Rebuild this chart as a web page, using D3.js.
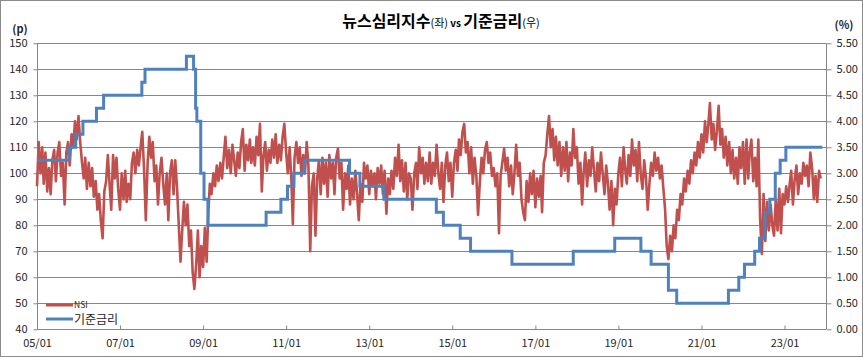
<!DOCTYPE html>
<html><head><meta charset="utf-8">
<script src="https://cdn.jsdelivr.net/npm/d3@7"></script>
<style>
html,body{margin:0;padding:0;background:#fff;}
svg{display:block;font-family:"Noto Sans CJK KR","Noto Sans",sans-serif;}
</style></head>
<body><svg id="c" width="863" height="357"></svg>
<script>
// ---- DATA ----
// NSI (left axis), semi-monthly readings (1st and 16th of each month)
const nsi2005 = [95,112,100,110,96,108,93,102,92,105,109,97,108,112,99,104,88,108,112,103,115,110,120,113];
const nsi2006 = [122,112,104,98,106,94,104,95,102,91,97,86,92,82,75,93,97,107,96,86,107,98,106,94];
const nsi2007 = [86,100,90,101,89,96,90,104,108,100,109,103,110,116,101,82,104,114,106,112,97,103,88,100];
const nsi2008 = [106,96,88,100,82,100,105,92,105,95,80,66,78,89,80,88,72,78,62,55.5,65,78,60,72];
const nsi2009 = [64,79,66,85,96,92,100,95,103,97,104,98,106,114,102,109,100,111,105,99,108,102,112,117];
const nsi2010 = [101,111,105,113,104,110,103,114,107,119,93,107,112,101,109,104,113,106,115,104,111,105,114,119];
const nsi2011 = [108,100,110,98,80.5,106,112,104,110,99,107,100,112,103,70,95,100,76,98,105,92,106,96,104];
const nsi2012 = [91,107,98,104,92,106,109.5,98,104,86,100,94,103,88,98,90,101,92,82,96,89,104,98,103];
const nsi2013 = [92,101,95,100,90,102,96,103,92,101,84.5,98,92,101,94,106,99,111,97,105,93,104,90,100];
const nsi2014 = [98,86,100,104,94,110,100,106,96,104,97,108,96,104,99,111,100,94,104,89,103,108,97,104];
const nsi2015 = [91,104,109,101,113,107,116,119,108,112,100,110,96,106,99,84,97,106,100,109,112,104,108,99];
const nsi2016 = [102,95,100,77,99,104,109.5,101,106,95,103,92,100,111,99,104,90,85,82,97,89,100,92,101];
const nsi2017 = [87,98,91,99,85,104,107,115,122,110,117,105,114,103,112,99,110,101,112,97,108,103,117,106];
const nsi2018 = [110,96,104,88,100,108,95,105,99,110,101,93,104,97,108,100,92,103,96,86,97,80,94,88];
const nsi2019 = [100,106,95,110,102,96,107,99,113,103,109,97,112,100,94,105,98,86,96,104,99,108,101,106];
const nsi2020 = [98,103,94,86,72,67,76,70,80,75,86,82,92,88,98,93,101,96,105,100,108,103,112,106];
const nsi2021 = [115,108,120,112,118,127,113,119,109,116,126,111,117,106,114,103,112,100,109,98,106,96,110,102];
const nsi2022 = [112,96,113,98,108,113,97,106,95,113,82,69,92,74,89,78,88,80,76,90,78,94,77,92];
const nsi2023 = [88,95,89,96,101,88,98,103,92,100,96,104,99,103,95,108,102,90,99,89,101,98];
const nsiYears = [2005,2006,2007,2008,2009,2010,2011,2012,2013,2014,2015,2016,2017,2018,2019,2020,2021,2022,2023];
const nsiByYear = [nsi2005,nsi2006,nsi2007,nsi2008,nsi2009,nsi2010,nsi2011,nsi2012,nsi2013,nsi2014,nsi2015,nsi2016,nsi2017,nsi2018,nsi2019,nsi2020,nsi2021,nsi2022,nsi2023];

// Base rate (right axis): change dates and new levels (%)
const rateDates  = ["2005-01-01","2005-10-11","2005-12-08","2006-02-09","2006-06-08","2006-08-10","2007-07-12","2007-08-09","2008-08-07","2008-10-09","2008-10-27","2008-11-07","2008-12-11","2009-01-09","2009-02-12","2010-07-09","2010-11-16","2011-01-13","2011-03-10","2011-06-10","2012-07-12","2012-10-11","2013-05-09","2014-08-14","2014-10-15","2015-03-12","2015-06-11","2016-06-09","2017-11-30","2018-11-30","2019-07-18","2019-10-16","2020-03-16","2020-05-28","2021-08-26","2021-11-25","2022-01-14","2022-04-14","2022-05-26","2022-07-13","2022-08-25","2022-10-12","2022-11-24","2023-01-13","2023-11-30"];
const rateValues = [3.25,3.50,3.75,4.00,4.25,4.50,4.75,5.00,5.25,5.00,4.25,4.00,3.00,2.50,2.00,2.25,2.50,2.75,3.00,3.25,3.00,2.75,2.50,2.25,2.00,1.75,1.50,1.25,1.50,1.75,1.50,1.25,0.75,0.50,0.75,1.00,1.25,1.50,1.75,2.25,2.50,3.00,3.25,3.50,3.50];

const leftTicks  = [40,50,60,70,80,90,100,110,120,130,140,150];
const rightTicks = [0,0.5,1,1.5,2,2.5,3,3.5,4,4.5,5,5.5];
const xTickLabels = ["05/01","07/01","09/01","11/01","13/01","15/01","17/01","19/01","21/01","23/01"];
const titleParts = [["뉴스심리지수",16,true],["(좌)",11,false],[" vs ",10,true],["기준금리",16,true],["(우)",11,false]];
const legendNames = ["NSI","기준금리"];

// ---- CHART ----
const svg = d3.select("#c");
const L = 37, R = 826, T = 43.3, B = 329.3;
const parse = d3.timeParse("%Y-%m-%d");

const nsiData = [];
nsiByYear.forEach((arr, k) => arr.forEach((v, i) => {
  nsiData.push({d: new Date(nsiYears[k], Math.floor(i/2), i % 2 ? 16 : 1), v});
}));
const rateData = rateDates.map((s, i) => ({d: parse(s), v: rateValues[i]}));

const x = d3.scaleTime().domain([new Date(2005,0,1), new Date(2024,0,1)]).range([L, R]);
const yL = d3.scaleLinear().domain([40,150]).range([B, T]);
const yR = d3.scaleLinear().domain([0,5.5]).range([B, T]);

const gridCol = "#868686", textCol = "#262626";

svg.append("rect").attr("x",0.5).attr("y",0.5).attr("width",862).attr("height",356)
  .attr("fill","none").attr("stroke","#8c8c8c");

// gridlines
svg.append("g").selectAll("line").data(leftTicks).join("line")
  .attr("x1", L).attr("x2", R).attr("y1", d => Math.round(yL(d))+0.5).attr("y2", d => Math.round(yL(d))+0.5)
  .attr("stroke", gridCol).attr("stroke-width", 1);

// left axis
const gL = svg.append("g").attr("transform", `translate(${L+0.5},0)`)
  .call(d3.axisLeft(yL).tickValues(leftTicks).tickSize(4).tickPadding(6));
// right axis
const gR = svg.append("g").attr("transform", `translate(${R+0.5},0)`)
  .call(d3.axisRight(yR).tickValues(rightTicks).tickSize(5).tickPadding(5).tickFormat(d3.format(".2f")));
// bottom axis
const xTicks = xTickLabels.map(s => new Date(2000 + +s.slice(0,2), +s.slice(3)-1, 1));
const gB = svg.append("g").attr("transform", `translate(0,${Math.round(B)+0.5})`)
  .call(d3.axisBottom(x).tickValues(xTicks).tickSize(-4).tickPadding(10).tickFormat((d,i) => xTickLabels[i]));

[gL, gR, gB].forEach(g => {
  g.select(".domain").attr("stroke", gridCol);
  g.selectAll(".tick line").attr("stroke", gridCol);
  g.selectAll("text").attr("fill", textCol).style("font-size", "11px")
    .style("font-family", "'Noto Sans CJK KR','Noto Sans',sans-serif");
});
gL.select(".domain").attr("d", `M0,${T}V${B}`);
gR.select(".domain").attr("d", `M0,${T}V${B}`);
gB.select(".domain").attr("d", `M${L},0H${R}`);

// NSI line
svg.append("path").datum(nsiData)
  .attr("fill","none").attr("stroke","#C0504D").attr("stroke-width",2.6).attr("stroke-linejoin","round")
  .attr("d", d3.line().x(d => x(d.d)).y(d => yL(d.v)));
// base rate line
svg.append("path").datum(rateData)
  .attr("fill","none").attr("stroke","#4F81BD").attr("stroke-width",3)
  .attr("d", d3.line().curve(d3.curveStepAfter).x(d => x(d.d)).y(d => yR(d.v)));

// axis unit labels
svg.append("text").attr("x",20).attr("y",33).attr("text-anchor","middle").attr("fill",textCol)
  .style("font-size","11px").style("font-weight","bold").text("(p)");
svg.append("text").attr("x",844).attr("y",29).attr("text-anchor","middle").attr("fill",textCol)
  .style("font-size","11px").style("font-weight","bold").text("(%)");

// title
const title = svg.append("text").attr("x",441).attr("y",27).attr("text-anchor","middle").attr("fill","#000");
titleParts.forEach(([t, s, b]) => title.append("tspan").text(t).style("font-size", s+"px").style("font-weight", b ? "bold" : "normal"));

// legend
const legCols = ["#C0504D","#4F81BD"];
const lg = svg.append("g");
legendNames.forEach((n, i) => {
  const yy = 305 + i*14;
  lg.append("line").attr("x1",46).attr("x2",73).attr("y1",yy).attr("y2",yy)
    .attr("stroke",legCols[i]).attr("stroke-width",3);
  lg.append("text").attr("x",74).attr("y",yy + (i===0 ? 3 : 4.5)).attr("fill",textCol)
    .style("font-size", i===0 ? "8.5px" : "12px").text(n);
});
</script></body></html>
